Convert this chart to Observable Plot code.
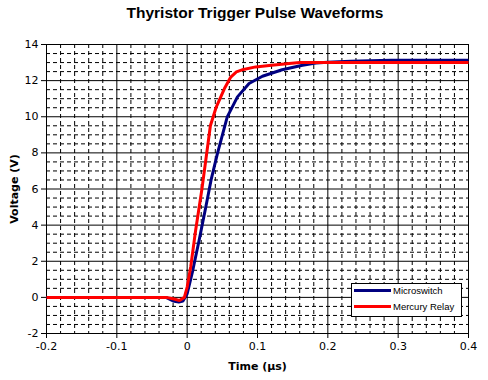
<!DOCTYPE html>
<html>
<head>
<meta charset="utf-8">
<script src="https://cdn.jsdelivr.net/npm/d3@7"></script>
<script src="https://cdn.jsdelivr.net/npm/@observablehq/plot@0.6"></script>
<style>
  html, body { margin: 0; padding: 0; background: #fff; }
  #wrap { position: relative; width: 488px; height: 380px; overflow: hidden; }
  #title { position: absolute; top: 4px; left: 255px; transform: translateX(-50%); white-space: nowrap;
           font-family: "Liberation Sans", Arial, sans-serif; font-weight: bold; font-size: 15.5px; color: #000; }
  #chart { position: absolute; top: 30px; left: 0; }
  #legend { position: absolute; left: 351px; top: 283px; width: 109px; height: 32px; border: 1px solid #000; background: #fff;
            font-family: "Liberation Sans", Arial, sans-serif; font-size: 9.5px; color: #000; }
  .row { position: absolute; left: 2px; height: 12px; display: flex; align-items: center; }
  .sw { width: 37px; height: 3px; margin-right: 2px; }
</style>
</head>
<body>
<div id="wrap">
  <div id="title">Thyristor Trigger Pulse Waveforms</div>
  <div id="chart"></div>
  <div id="legend"></div>
</div>
<script>
// ---- data ----
const seriesNames = ["Microswitch", "Mercury Relay"];
const seriesColors = ["#000080", "#ff0000"];

const microT = [-0.2, -0.03, -0.02, -0.012, -0.006, 0, 0.008, 0.017, 0.0265, 0.034, 0.043, 0.057, 0.0715, 0.088, 0.107, 0.135, 0.164, 0.183, 0.2, 0.232, 0.29, 0.4];
const microV = [0, 0, -0.2, -0.26, -0.2, 0.2, 1.5, 3.16, 5.0, 6.5, 7.96, 9.99, 11.1, 11.84, 12.24, 12.6, 12.85, 12.98, 13.02, 13.07, 13.13, 13.13];

const relayT = [-0.2, -0.03, -0.02, -0.011, -0.004, 0, 0.005, 0.012, 0.021, 0.033, 0.041, 0.053, 0.062, 0.07, 0.08, 0.0975, 0.12, 0.145, 0.16, 0.2, 0.4];
const relayV = [0, 0, -0.08, -0.17, 0, 0.57, 1.68, 3.7, 6.0, 9.5, 10.5, 11.56, 12.2, 12.48, 12.62, 12.76, 12.85, 12.95, 13.0, 13.0, 13.0];

const xTicks = [-0.2, -0.1, 0, 0.1, 0.2, 0.3, 0.4];
const xTickLabels = ["-0.2", "-0.1", "0", "0.1", "0.2", "0.3", "0.4"];
const yTicks = [-2, 0, 2, 4, 6, 8, 10, 12, 14];
const yTickLabels = ["-2", "0", "2", "4", "6", "8", "10", "12", "14"];

// minor grid positions (4 per major x interval, 3 per major y interval)
const minorX = [];
for (let i = 0; i < xTicks.length - 1; i++) for (let k = 1; k < 5; k++) minorX.push(xTicks[i] + (xTicks[i + 1] - xTicks[i]) * k / 5);
const minorY = [];
for (let i = 0; i < yTicks.length - 1; i++) for (let k = 1; k < 4; k++) minorY.push(yTicks[i] + (yTicks[i + 1] - yTicks[i]) * k / 4);

const micro = microT.map((t, i) => ({t, v: microV[i]}));
const relay = relayT.map((t, i) => ({t, v: relayV[i]}));

const chart = Plot.plot({
  width: 488,
  height: 350,
  marginTop: 14,
  marginBottom: 47,
  marginLeft: 46,
  marginRight: 20,
  style: {fontFamily: "DejaVu Sans, Verdana, sans-serif", fontSize: "11px", color: "#000", background: "#fff"},
  x: {domain: [-0.2, 0.4]},
  y: {domain: [-2, 14]},
  marks: [
    Plot.ruleX(minorX, {stroke: "#000", strokeWidth: 1, strokeDasharray: "4,3", strokeOpacity: 1}),
    Plot.ruleY(minorY, {stroke: "#000", strokeWidth: 1, strokeDasharray: "4,3", strokeOpacity: 1}),
    Plot.ruleX(xTicks, {stroke: "#000", strokeWidth: 1}),
    Plot.ruleY(yTicks, {stroke: "#000", strokeWidth: 1}),
    Plot.frame({stroke: "#000", strokeWidth: 1}),
    Plot.axisX({ticks: xTicks, tickFormat: (d, i) => xTickLabels[xTicks.indexOf(d)], tickSize: 5, tickPadding: 4,
                label: "Time (μs)", labelAnchor: "center", labelArrow: "none", labelOffset: 36}),
    Plot.axisY({ticks: yTicks, tickFormat: (d) => yTickLabels[yTicks.indexOf(d)], tickSize: 5, tickPadding: 3,
                label: "Voltage (V)", labelAnchor: "center", labelArrow: "none", labelOffset: 36}),
    Plot.line(micro, {x: "t", y: "v", stroke: seriesColors[0], strokeWidth: 3, strokeLinejoin: "miter", strokeLinecap: "butt"}),
    Plot.line(relay, {x: "t", y: "v", stroke: seriesColors[1], strokeWidth: 3, strokeLinejoin: "miter", strokeLinecap: "butt"})
  ]
});

d3.select(chart).selectAll('[aria-label="x-axis label"] text, [aria-label="y-axis label"] text')
  .style("font-weight", "bold").style("font-size", "11px");
document.getElementById("chart").appendChild(chart);

// legend
const legend = document.getElementById("legend");
seriesNames.forEach((name, i) => {
  const row = document.createElement("div");
  row.className = "row";
  row.style.top = (i === 0 ? 0 : 16) + "px";
  const sw = document.createElement("span");
  sw.className = "sw";
  sw.style.background = seriesColors[i];
  const tx = document.createElement("span");
  tx.textContent = name;
  row.appendChild(sw);
  row.appendChild(tx);
  legend.appendChild(row);
});
</script>
</body>
</html>
